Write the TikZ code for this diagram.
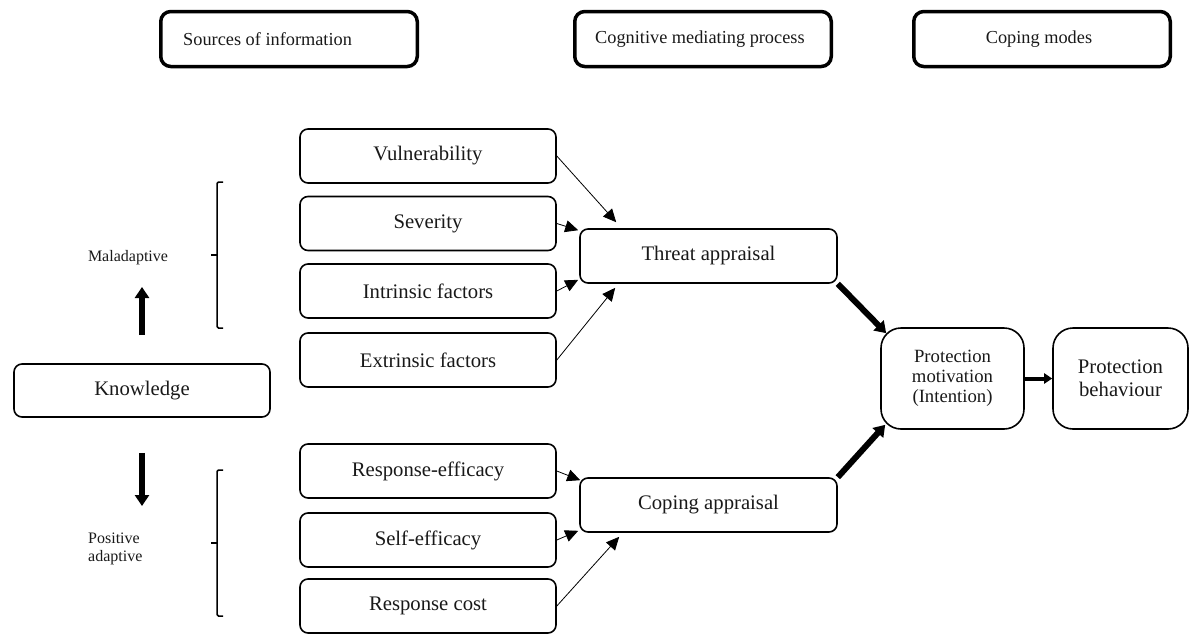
\documentclass[tikz,border=0pt]{standalone}
\usepackage{fontspec}
\setmainfont{Liberation Serif}
\usetikzlibrary{arrows.meta,calc}
\begin{document}
\begin{tikzpicture}[x=1pt,y=-1pt,
  hdr/.style={draw, line width=3.5pt, rounded corners=10pt, minimum width=256.5pt, minimum height=55pt, inner sep=0pt},
  hdrtext/.style={font=\fontsize{18.3}{22}\selectfont, inner sep=0pt, text=black!90},
  src/.style={draw, line width=1.6pt, rounded corners=8pt, minimum width=256pt, minimum height=54pt, inner sep=0pt, font=\fontsize{20.7}{24}\selectfont, text=black!90},
  side/.style={font=\fontsize{16}{18}\selectfont, inner sep=0pt, text=black!90},
  thinarrow/.style={line width=0.8pt, -{Triangle[length=13pt,width=12pt]}},
  bigarrow/.style={line width=6pt, -{Triangle[length=11pt,width=14pt]}},
  midarrow/.style={line width=4pt, -{Triangle[length=8pt,width=10pt]}},
  brk/.style={line width=1.5pt, rounded corners=1.5pt}
]
\useasboundingbox (0,0) rectangle (1191,635);

% headers
\node[hdr] (h1) at (289,39) {};
\node[hdrtext, anchor=west] (t1) at (183,39) {Sources of information};
\node[hdr] (h2) at (703,39) {};
\node[hdrtext, anchor=west] (t2) at (595,39) {Cognitive mediating process};
\node[hdr] (h3) at (1042,39) {};
\node[hdrtext] (t3) at (1039,39) {Coping modes};

% sources
\node[src] (vul) at (428,156) {Vulnerability};
\node[src] (sev) at (428,223.5) {Severity};
\node[src] (intr) at (428,291) {Intrinsic factors};
\node[src] (extr) at (428,360) {Extrinsic factors};
\node[src] (reff) at (428,471) {Response-efficacy};
\node[src] (seff) at (428,540) {Self-efficacy};
\node[src] (rcost) at (428,606) {Response cost};

% appraisals
\node[src, minimum width=257pt] (thr) at (708.5,256) {Threat appraisal};
\node[src, minimum width=257pt] (cop) at (708.5,505) {Coping appraisal};

% knowledge
\node[src, minimum height=53pt] (kn) at (142,390.5) {Knowledge};

% outcome
\node[src, rounded corners=20pt, minimum width=143pt, minimum height=101pt, align=center,
      font=\fontsize{18.7}{20}\selectfont] (pm) at (952.5,378.5) {Protection\\motivation\\(Intention)};
\node[src, rounded corners=20pt, minimum width=135pt, minimum height=101pt, align=center,
      font=\fontsize{20.7}{23}\selectfont] (pb) at (1120.5,378.5) {Protection\\behaviour};

% side labels
\node[side] (mal) at (128,258) {Maladaptive};
\node[side, align=left, anchor=west] (pos) at (88,549) {Positive\\adaptive};

% knowledge arrows
\coordinate (upS) at ($(kn.north)+(0,-28)$);
\coordinate (upE) at (142,287);
\draw[bigarrow] (upS) -- (upE);
\coordinate (dnS) at ($(kn.south)+(0,35)$);
\coordinate (dnE) at (142,506);
\draw[bigarrow] (dnS) -- (dnE);

% brackets
\draw[brk] (223,182) -- (217,182) -- (217,328) -- (223,328);
\draw[brk] (217,255) -- (211,255);
\draw[brk] (223,470) -- (217,470) -- (217,616) -- (223,616);
\draw[brk] (217,543) -- (211,543);

% thin arrows to threat appraisal
\draw[thinarrow] (vul.east) -- ($(thr.north west)+(37,-6)$);
\draw[thinarrow] (sev.east) -- ($(thr.north west)+(-1,2)$);
\draw[thinarrow] (intr.east) -- ($(thr.south west)+(-1,-4)$);
\draw[thinarrow] (extr.east) -- ($(thr.south west)+(36,4)$);

% thin arrows to coping appraisal
\draw[thinarrow] (reff.east) -- ($(cop.north west)+(1,3)$);
\draw[thinarrow] (seff.east) -- ($(cop.south west)+(-1,-2)$);
\draw[thinarrow] (rcost.east) -- ($(cop.south west)+(40,4)$);

% thick arrows
\draw[bigarrow] (thr.south east) -- ($(pm.north west)+(6,6)$);
\draw[bigarrow] (cop.north east) -- ($(pm.south west)+(5,-5)$);
\draw[midarrow] (pm.east) -- (pb.west);
\end{tikzpicture}
\end{document}
